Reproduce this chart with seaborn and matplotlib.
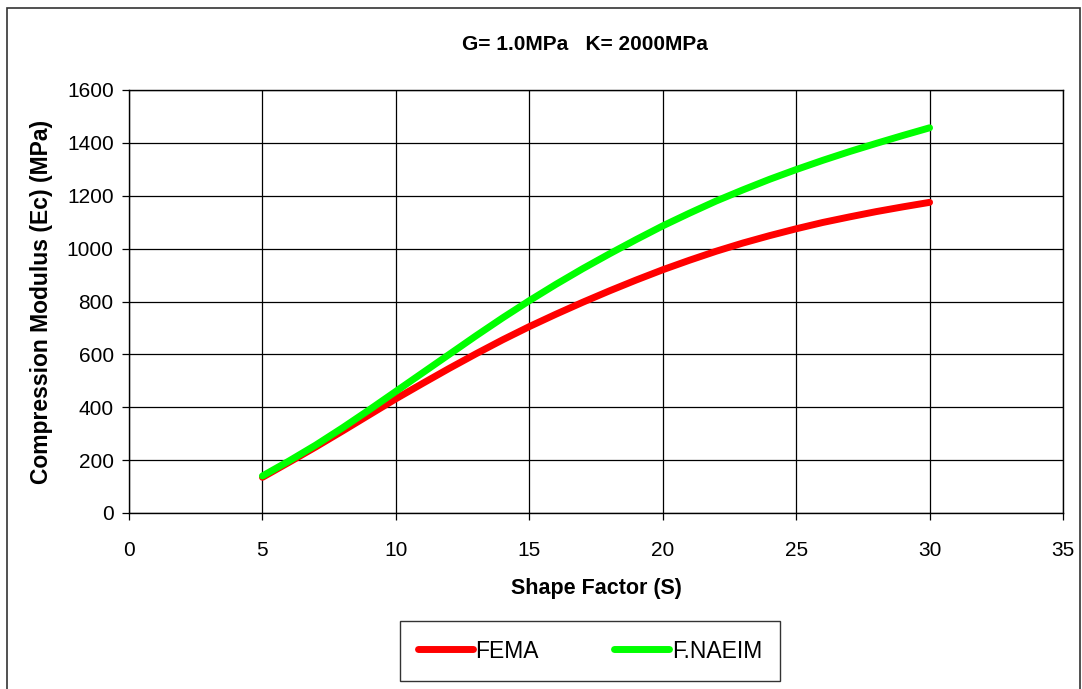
import pandas as pd
import seaborn as sns
import matplotlib.pyplot as plt
from matplotlib.patches import Rectangle

sns.set_style("white")
plt.rcParams['font.family'] = ['Liberation Sans', 'DejaVu Sans']
plt.rcParams['text.color'] = 'black'
plt.rcParams['axes.labelcolor'] = 'black'
plt.rcParams['xtick.color'] = 'black'
plt.rcParams['ytick.color'] = 'black'

# shape factor S
shape_factor = list(range(5, 31))
fema = [135, 192, 250, 310, 371, 432, 490, 547, 602, 655, 705, 752, 797, 840, 881,
        920, 956, 990, 1021, 1049, 1075, 1099, 1120, 1140, 1158, 1175]
naeim = [140, 197, 257, 322, 390, 460, 530, 600, 670, 738, 803, 865, 924, 980, 1034,
         1086, 1134, 1180, 1222, 1262, 1299, 1334, 1367, 1398, 1428, 1457]

df = pd.DataFrame({'S': shape_factor * 2,
                   'Ec': fema + naeim,
                   'model': ['FEMA'] * len(fema) + ['F.NAEIM'] * len(naeim)})

fig = plt.figure(figsize=(10.82, 6.89), dpi=100)
ax = fig.add_axes([129/1082, 1-513/689, (1063-129)/1082, (513-90)/689])

sns.lineplot(data=df, x='S', y='Ec', hue='model', palette={'FEMA': '#ff0000', 'F.NAEIM': '#00ff00'},
             linewidth=5, solid_capstyle='round', ax=ax)

ax.set_xlim(0, 35)
ax.set_ylim(0, 1600)
ax.set_xticks(range(0, 36, 5))
ax.set_yticks(range(0, 1601, 200))
ax.grid(True, color='black', linewidth=0.9)
ax.set_axisbelow(True)
for s in ax.spines.values():
    s.set_color('black')
    s.set_linewidth(1.0)
ax.tick_params(axis='both', direction='out', length=5, width=0.9, color='black',
               labelsize=15, pad=6, left=True, bottom=True)
ax.tick_params(axis='x', pad=15)
ax.set_xlabel('Shape Factor (S)', fontsize=15.5, fontweight='bold', labelpad=13)
ax.set_ylabel('Compression Modulus (Ec) (MPa)', fontsize=16.5, fontweight='bold', labelpad=10)

fig.text(585/1082, 1-45/689, 'G= 1.0MPa   K= 2000MPa', ha='center', va='center',
         fontsize=15, fontweight='bold')

leg = ax.legend(loc='center', bbox_to_anchor=(590/1082, 1-651/689), bbox_transform=fig.transFigure,
                ncol=2, frameon=True, fancybox=False, fontsize=16.5, handlelength=2.4,
                columnspacing=3.3, borderpad=0.8, handletextpad=0.1, edgecolor='black')
leg.get_frame().set_linewidth(1.0)
for h in leg.get_lines():
    h.set_linewidth(5)
    h.set_solid_capstyle('round')

fig.patches.append(Rectangle((7/1082, -0.05), 1073/1082, 1.05 - 8/689, transform=fig.transFigure,
                             fill=False, edgecolor='#333333', linewidth=1.2))

plt.savefig('out.png', dpi=100)
